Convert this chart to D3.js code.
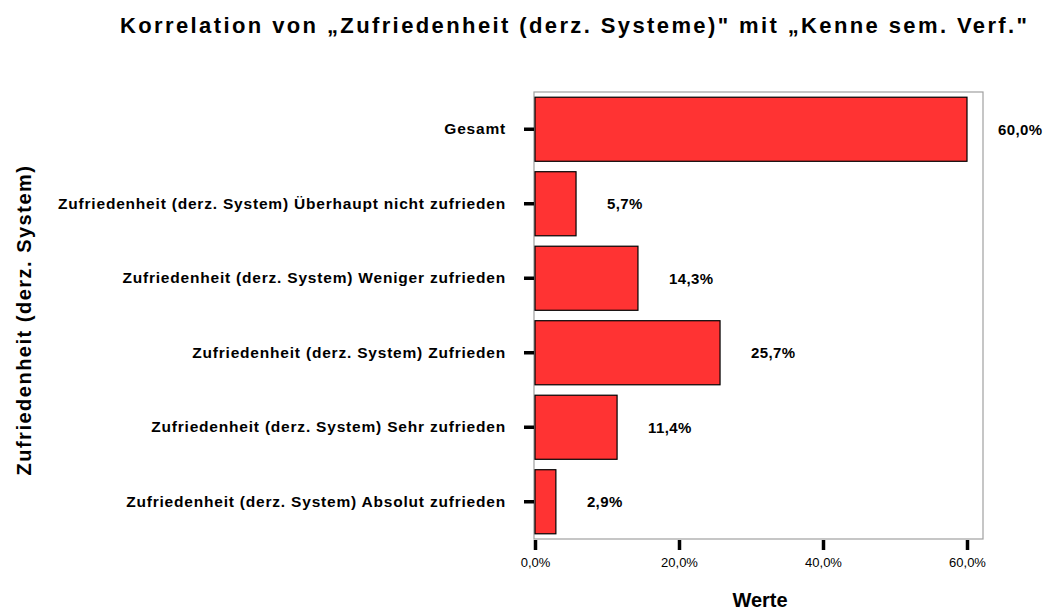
<!DOCTYPE html>
<html>
<head>
<meta charset="utf-8">
<script src="https://cdn.jsdelivr.net/npm/d3@7"></script>
<style>
  body { margin: 0; background: #fff; }
  text { font-family: "Liberation Sans", Arial, sans-serif; fill: #000; }
</style>
</head>
<body>
<div class="container"></div>
<script>
// categories and percentages
const categories = [
  'Gesamt',
  'Zufriedenheit (derz. System) Überhaupt nicht zufrieden',
  'Zufriedenheit (derz. System) Weniger zufrieden',
  'Zufriedenheit (derz. System) Zufrieden',
  'Zufriedenheit (derz. System) Sehr zufrieden',
  'Zufriedenheit (derz. System) Absolut zufrieden'
];
const values = [60.0, 5.7, 14.3, 25.7, 11.4, 2.9];
const xTicks = [0, 20, 40, 60];

const globals = {
  barColor: '#ff3333',
  frameColor: '#a0a0a0'
};

const fmt = v => `${v.toFixed(1).replace('.', ',')}%`;

// frame of the plot area
const plot = { left: 534, right: 983, top: 92, bottom: 539 };

const svg = d3.select('.container')
  .append('svg')
  .attr('width', 1051)
  .attr('height', 610);

const xScale = d3.scaleLinear()
  .domain([0, 60])
  .range([plot.left + 1, 967]);

const yScale = d3.scaleBand()
  .domain(categories)
  .range([plot.top, plot.bottom])
  .paddingInner(0.14)
  .paddingOuter(0.07);

// title
svg.append('text')
  .attr('x', 120)
  .attr('y', 33)
  .attr('font-size', 22)
  .attr('font-weight', 'bold')
  .attr('textLength', 907)
  .attr('lengthAdjust', 'spacing')
  .text('Korrelation von „Zufriedenheit (derz. Systeme)" mit „Kenne sem. Verf."');

// plot frame
svg.append('rect')
  .attr('x', plot.left)
  .attr('y', plot.top)
  .attr('width', plot.right - plot.left)
  .attr('height', plot.bottom - plot.top)
  .attr('fill', 'none')
  .attr('stroke', globals.frameColor)
  .attr('stroke-width', 1.2);

// bars
svg.selectAll('rect.bar')
  .data(values)
  .enter()
  .append('rect')
  .attr('class', 'bar')
  .attr('x', xScale(0))
  .attr('y', (d, i) => yScale(categories[i]))
  .attr('width', d => xScale(d) - xScale(0))
  .attr('height', yScale.bandwidth())
  .attr('fill', globals.barColor)
  .attr('stroke', '#000')
  .attr('stroke-width', 1.2);

// value labels
svg.selectAll('text.value')
  .data(values)
  .enter()
  .append('text')
  .attr('class', 'value')
  .attr('x', d => xScale(d) + 31)
  .attr('y', (d, i) => yScale(categories[i]) + yScale.bandwidth() / 2)
  .attr('dy', '0.35em')
  .attr('font-size', 15)
  .attr('font-weight', 'bold')
  .attr('letter-spacing', 0.4)
  .text(fmt);

// y axis: ticks and category labels
const yAxis = svg.append('g')
  .attr('transform', `translate(${plot.left},0)`)
  .call(d3.axisLeft(yScale).tickSize(10).tickPadding(18));
yAxis.select('.domain').remove();
yAxis.selectAll('.tick line')
  .attr('stroke', '#000')
  .attr('stroke-width', 3.5);
yAxis.selectAll('.tick text')
  .attr('font-size', 15.5)
  .attr('font-weight', 'bold')
  .attr('letter-spacing', 0.8)
  .attr('font-family', '"Liberation Sans", Arial, sans-serif');

// x axis
const xAxis = svg.append('g')
  .attr('transform', `translate(0,${plot.bottom + 1})`)
  .call(d3.axisBottom(xScale).tickValues(xTicks).tickSize(10).tickPadding(8).tickFormat(fmt));
xAxis.select('.domain').remove();
xAxis.selectAll('.tick line')
  .attr('stroke', '#000')
  .attr('stroke-width', 3.5);
xAxis.selectAll('.tick text')
  .attr('font-size', 13)
  .attr('font-family', '"Liberation Sans", Arial, sans-serif');

// axis titles
svg.append('text')
  .attr('x', 760)
  .attr('y', 607)
  .attr('text-anchor', 'middle')
  .attr('font-size', 20)
  .attr('font-weight', 'bold')
  .text('Werte');

svg.append('text')
  .attr('transform', 'translate(31,320) rotate(-90)')
  .attr('text-anchor', 'middle')
  .attr('font-size', 20)
  .attr('font-weight', 'bold')
  .attr('letter-spacing', 1.5)
  .text('Zufriedenheit (derz. System)');
</script>
</body>
</html>
